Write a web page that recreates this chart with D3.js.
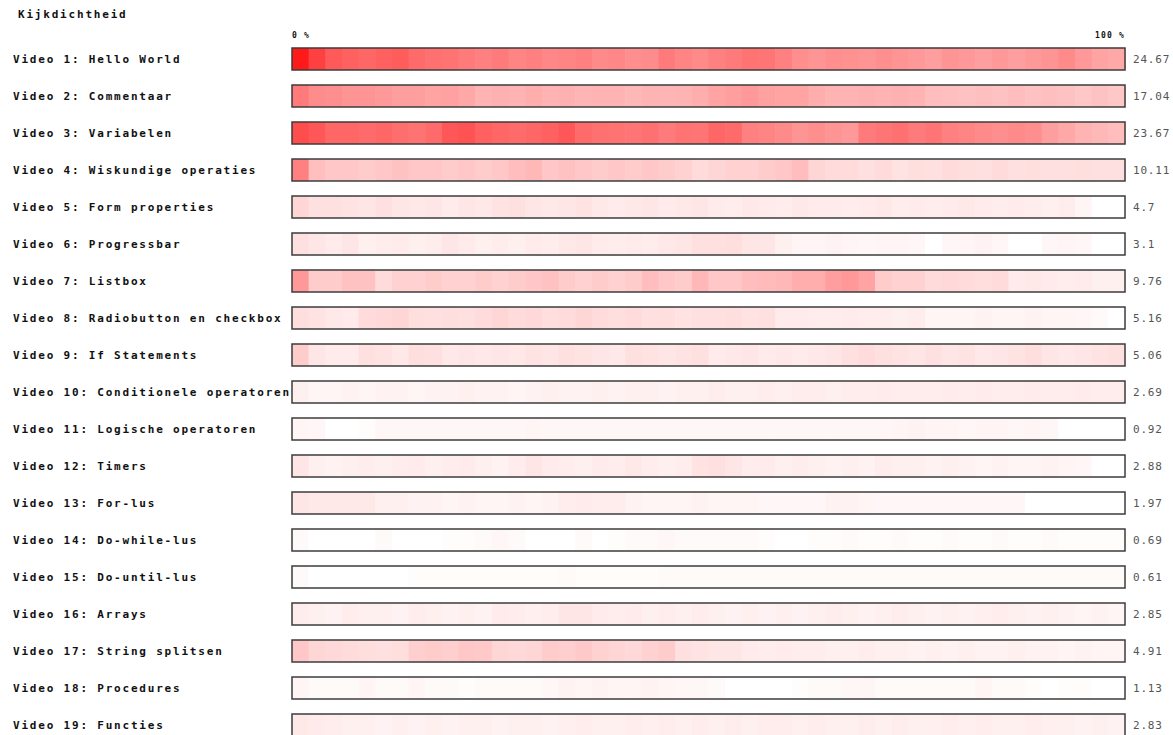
<!DOCTYPE html>
<html>
<head>
<meta charset="utf-8">
<script src="https://cdn.jsdelivr.net/npm/d3@7/dist/d3.min.js"></script>
<style>
	body { margin: 0; background: #fff; }
	text { font-family: "DejaVu Sans Mono", monospace; }
	.label { font-size: 11px; font-weight: bold; letter-spacing: 1.8px; fill: #111; }
	.tick { font-size: 8px; font-weight: bold; letter-spacing: 1.2px; fill: #111; }
	.value { font-size: 11px; letter-spacing: 0.8px; fill: #555; }
</style>
</head>
<body>
<svg id="chart" width="1173" height="735"></svg>
<script>
// titels van de video's
var videos = ["Video 1: Hello World", "Video 2: Commentaar", "Video 3: Variabelen",
	"Video 4: Wiskundige operaties", "Video 5: Form properties", "Video 6: Progressbar",
	"Video 7: Listbox", "Video 8: Radiobutton en checkbox", "Video 9: If Statements",
	"Video 10: Conditionele operatoren", "Video 11: Logische operatoren", "Video 12: Timers",
	"Video 13: For-lus", "Video 14: Do-while-lus", "Video 15: Do-until-lus", "Video 16: Arrays",
	"Video 17: String splitsen", "Video 18: Procedures", "Video 19: Functies"];

// gemiddelde kijkdichtheid per video
var totals = ["24.67", "17.04", "23.67", "10.11", "4.7", "3.1", "9.76", "5.16", "5.06", "2.69",
	"0.92", "2.88", "1.97", "0.69", "0.61", "2.85", "4.91", "1.13", "2.83"];

var tickLabels = ["0 %", "100 %"];

// kijkdichtheid per stukje video (0 - 100), van begin tot eind
var v1 = [90,75,65,62,60,62,64,58,56,55,52,50,52,48,50,47,48,50,46,47,44,45,52,48,46,50,52,55,54,50,44,42,44,43,42,44,42,40,38,42,40,38,40,38,40,42,46,40,36,34];
var v2 = [52,45,44,42,42,40,38,38,36,37,34,30,31,30,32,30,31,29,30,30,28,30,29,30,32,36,38,40,37,36,36,32,30,30,31,30,31,30,26,25,24,25,24,26,24,25,24,22,24,22];
var v3 = [70,66,60,60,58,60,57,55,58,66,68,62,60,58,60,62,66,58,56,55,54,56,52,55,54,60,58,50,48,46,42,44,42,40,52,54,56,52,54,50,48,46,44,46,44,38,34,30,28,26];
var v4 = [50,25,22,22,20,22,24,22,22,20,22,20,22,26,28,22,24,22,20,22,20,22,20,18,14,16,18,18,20,22,26,16,14,14,12,14,11,13,12,14,13,12,14,12,13,12,12,13,12,12];
var v5 = [16,12,12,11,10,12,10,9,10,8,10,9,11,12,10,9,10,11,9,8,9,10,8,9,10,8,7,9,8,7,9,8,8,7,8,9,7,8,7,8,9,8,7,8,7,6,7,4,0,0];
var v6 = [12,10,8,10,6,7,8,6,7,10,8,6,7,6,8,7,9,10,8,7,8,7,9,10,12,12,13,10,10,6,4,4,5,4,3,4,4,3,0,3,4,5,3,0,0,3,4,3,0,0];
var v7 = [40,20,20,24,24,14,18,18,20,18,18,20,18,20,22,24,20,18,20,18,20,26,22,20,28,22,22,26,27,28,32,32,38,40,36,20,18,18,14,15,14,13,14,8,9,8,7,8,6,6];
var v8 = [13,11,9,8,14,15,16,13,12,13,12,14,16,14,15,13,14,16,14,13,14,12,13,11,12,12,13,11,12,8,8,7,7,8,7,7,6,7,4,4,4,5,4,4,5,4,4,3,2,0];
var v9 = [20,10,8,8,12,11,9,13,12,9,10,9,10,9,11,10,12,11,10,9,12,11,10,11,12,8,9,10,8,9,8,9,10,12,14,12,11,10,12,10,11,9,10,11,13,10,9,10,11,12];
var v10 = [6,4,4,5,4,5,5,4,5,5,6,5,5,4,5,6,5,5,6,5,6,6,5,6,6,7,6,6,7,6,7,7,6,7,7,8,7,7,7,8,7,8,7,7,8,7,7,8,7,7];
var v11 = [4,3,0,0,1,3,3,3,3,3,3,3,3,3,4,3,3,3,3,3,3,3,3,3,3,3,3,3,3,3,3,3,3,3,3,3,4,5,4,4,3,4,4,3,4,3,0,0,0,0];
var v12 = [10,6,5,6,7,6,7,8,6,7,8,6,5,7,10,8,7,6,8,7,9,7,6,7,11,12,10,7,8,6,7,6,5,6,5,7,6,6,5,6,5,4,5,4,4,5,4,3,0,0];
var v13 = [10,9,9,9,9,6,6,5,5,4,5,4,4,5,4,5,7,8,7,7,5,4,4,4,5,4,4,4,3,3,3,3,5,5,4,3,3,3,3,3,3,3,3,3,0,0,0,0,0,0];
var v14 = [2,0,0,0,0,2,0,0,0,1,1,2,3,2,0,0,0,2,0,1,2,2,3,2,2,2,2,2,1,0,0,1,1,2,1,1,2,1,1,2,1,1,2,1,1,2,1,1,1,1];
var v15 = [2,0,0,0,0,0,0,1,1,1,1,1,1,1,1,1,2,1,1,1,1,1,2,2,2,2,2,2,2,2,2,2,2,2,2,2,2,2,2,2,2,2,2,2,2,2,2,2,2,2];
var v16 = [7,6,5,7,6,6,5,7,6,5,6,5,8,7,6,7,10,10,8,7,8,6,7,6,7,6,5,6,5,6,5,6,7,6,5,6,7,6,5,6,5,6,7,6,5,6,5,4,5,4];
var v17 = [22,16,15,14,13,12,13,19,20,19,22,21,16,15,16,20,19,21,18,16,15,18,20,12,11,10,10,8,7,8,7,7,6,6,7,6,6,5,6,5,6,5,5,6,5,5,4,5,4,4];
var v18 = [4,2,2,2,4,2,2,4,2,2,1,2,2,2,2,3,5,4,5,4,4,5,4,3,3,2,0,0,0,0,1,2,2,3,4,2,2,2,2,2,2,4,2,2,1,0,1,1,0,0];
var v19 = [9,8,7,6,6,5,6,5,6,5,6,6,5,6,6,5,6,7,6,6,7,6,7,6,7,6,7,6,7,7,6,7,6,6,7,6,7,6,6,7,6,7,6,6,7,6,6,5,6,5];

var density = [v1, v2, v3, v4, v5, v6, v7, v8, v9, v10, v11, v12, v13, v14, v15, v16, v17, v18, v19];

var svg = d3.select("#chart"),
	barLeft = 292, barRight = 1125,
	firstRow = 48, rowStep = 37, barHeight = 22;

var x = d3.scaleLinear().domain([0, 100]).range([barLeft, barRight]),
	y = d3.scaleBand().domain(d3.range(videos.length))
		.range([firstRow, firstRow + rowStep * (videos.length - 1) + barHeight])
		.paddingInner((rowStep - barHeight) / rowStep).paddingOuter(0).align(0),
	color = d3.scaleLinear().domain([0, 100]).range(["#ffffff", "#ff0000"]);

svg.append("text")
	.attr("class", "label")
	.attr("x", 18).attr("y", 18)
	.text("Kijkdichtheid");

svg.selectAll(".tick")
	.data(tickLabels)
	.enter()
	.append("text")
	.attr("class", "tick")
	.attr("x", function(d, i) { return x(i * 100); })
	.attr("y", 38)
	.attr("text-anchor", function(d, i) { return i ? "end" : "start"; })
	.text(function(d) { return d; });

var rows = svg.selectAll(".row")
	.data(videos)
	.enter()
	.append("g")
	.attr("class", "row")
	.attr("transform", function(d, i) { return "translate(0," + y(i) + ")"; });

rows.append("text")
	.attr("class", "label")
	.attr("x", 13)
	.attr("y", y.bandwidth() / 2 + 4)
	.text(function(d) { return d; });

rows.selectAll(".cell")
	.data(function(d, i) { return density[i]; })
	.enter()
	.append("rect")
	.attr("class", "cell")
	.attr("x", function(d, j, nodes) { return x(j * 100 / nodes.length); })
	.attr("width", function(d, j, nodes) { return x(100 / nodes.length) - x(0) + 0.6; })
	.attr("y", 0)
	.attr("height", y.bandwidth())
	.attr("fill", function(d) { return color(d); });

rows.append("rect")
	.attr("x", x(0))
	.attr("y", 0)
	.attr("width", x(100) - x(0))
	.attr("height", y.bandwidth())
	.attr("fill", "none")
	.attr("stroke", "#3c3c3c")
	.attr("stroke-width", 1.5);

rows.append("text")
	.attr("class", "value")
	.attr("x", x(100) + 8)
	.attr("y", y.bandwidth() / 2 + 4)
	.text(function(d, i) { return totals[i]; });
</script>
</body>
</html>
